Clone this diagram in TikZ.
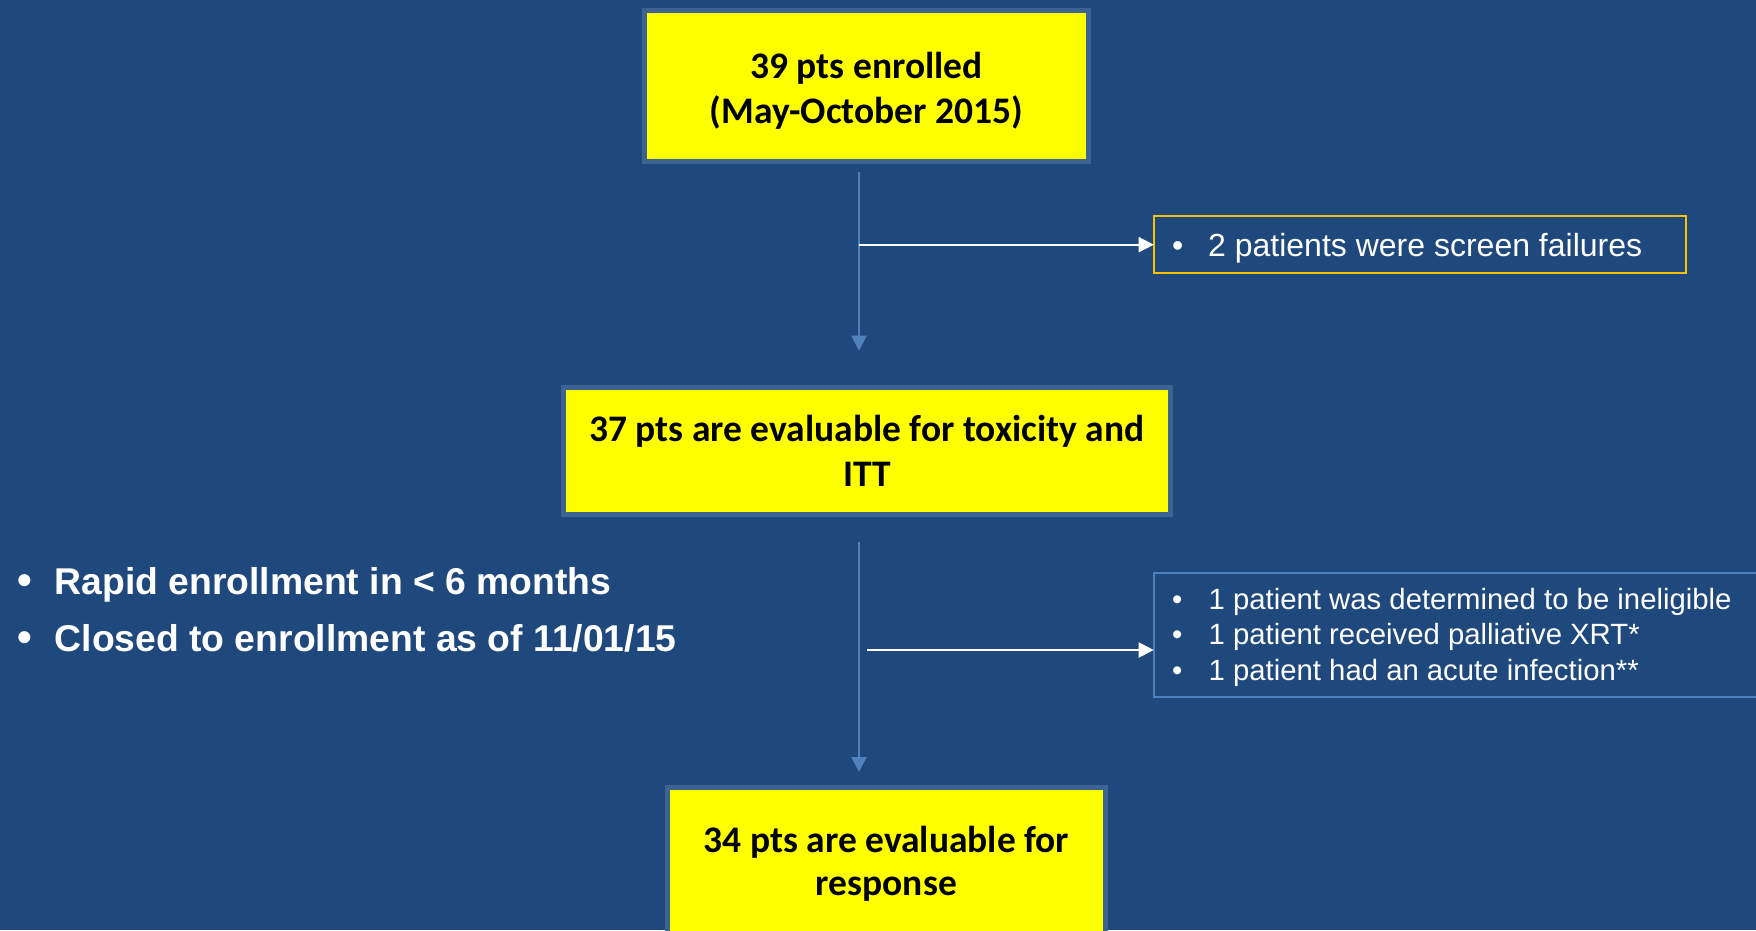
\documentclass[tikz,border=0pt]{standalone}
\usepackage{fontspec}
\usepackage{xcolor}
\usepackage{tikz}
\usetikzlibrary{arrows.meta,positioning}
\newfontfamily\calfont{Carlito}
\newfontfamily\arlfont{Liberation Sans}
\definecolor{slidebg}{RGB}{31,73,125}
\definecolor{framecol}{RGB}{60,99,145}
\definecolor{linecol}{RGB}{79,129,189}
\definecolor{boxyellow}{RGB}{255,255,0}
\definecolor{failorange}{RGB}{255,192,0}

\begin{document}
\begin{tikzpicture}[x=1pt,y=-1pt,
		stage/.style={draw=framecol,line width=5pt,fill=boxyellow,align=center,inner sep=0pt,outer sep=0pt,
			font=\calfont\bfseries\fontsize{37.5}{45}\selectfont},
		notebox/.style={line width=2pt,inner sep=0pt,outer sep=0pt},
		notetext/.style={anchor=base west,align=left,text=white,inner sep=0pt},
		down/.style={draw=linecol,line width=2pt,-{Triangle[length=15pt,width=15pt]}},
		side/.style={draw=white,line width=2pt,-{Triangle[length=15pt,width=15pt]}}]
				\fill[slidebg] (0,0) rectangle (1756,930);
				\useasboundingbox (0,0) rectangle (1756,930);
				\clip (0,0) rectangle (1756,930);
				\node[stage,minimum width=444pt,minimum height=151pt] (enrol) at (866.5,86)
					{\rule{0pt}{36pt}39 pts enrolled\\(May-October 2015)};
				\node[stage,minimum width=607.5pt,minimum height=127pt] (itt) at (866.8,451) {37 pts are evaluable for toxicity and\\ITT};
				\node[stage,minimum width=438pt,minimum height=153pt,font=\calfont\bfseries\fontsize{37.5}{42.5}\selectfont] (resp) at (886.4,864)
					{34 pts are evaluable for\\response};
				\node[notebox,draw=failorange,minimum width=532pt,minimum height=57.3pt] (screen) at (1419.7,244.7) {};
				\node[notebox,draw=linecol,minimum width=700pt,minimum height=124pt] (excl) at (1503.7,634.7) {};
				\node[notetext,font=\arlfont\fontsize{32}{38}\selectfont] (screentxt) at (1172,256.7)
					{\makebox[36pt][l]{•}2 patients were screen failures};
				\node[notetext,font=\arlfont\fontsize{29.3}{35.4}\selectfont] (excltxt) at (1172,680)
					{\makebox[36.5pt][l]{•}1 patient was determined to be ineligible\\
					\makebox[36.5pt][l]{•}1 patient received palliative XRT*\\
					\makebox[36.5pt][l]{•}1 patient had an acute infection**};
				\node[notetext,font=\arlfont\bfseries\fontsize{37.3}{57.7}\selectfont] (facts) at (17.5,651.7)
					{\makebox[37pt][l]{\fontsize{42}{57.7}\selectfont•}Rapid enrollment in < 6 months\\
					\makebox[37pt][l]{\fontsize{42}{57.7}\selectfont•}Closed to enrollment as of 11/01/15};
				\coordinate (d1s) at ([xshift=-7.5pt,yshift=-10.5pt]enrol.south);
				\coordinate (d1e) at ([xshift=-7.8pt,yshift=36.8pt]itt.north);
				\coordinate (d2s) at ([xshift=-7.8pt,yshift=-27.5pt]itt.south);
				\coordinate (d2e) at ([yshift=15.5pt]resp.north);
				\coordinate (b2) at (867,650);
				\draw[down] (d1s) -- (d1e);
				\draw[down] (d2s) -- (d2s |- d2e);
				\draw[side] (d1s |- screen.west) -- (screen.west);
				\draw[side] (b2) -- (b2 -| excl.west);
\end{tikzpicture}
\end{document}
